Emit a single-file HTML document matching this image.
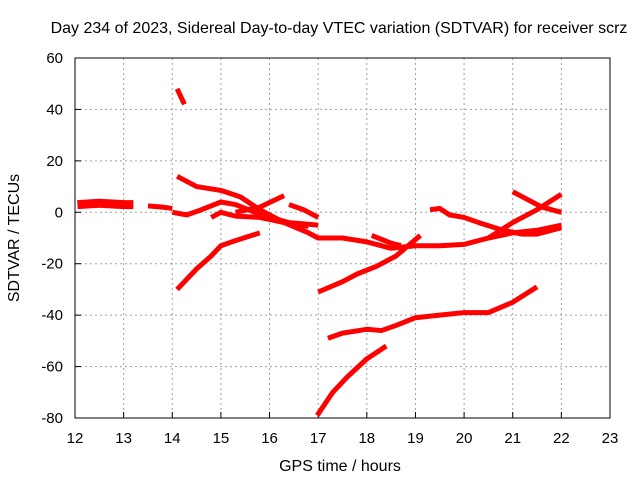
<!DOCTYPE html>
<html><head><meta charset="utf-8"><style>
body{margin:0;background:#fff}
svg text{font-family:"Liberation Sans",sans-serif;font-size:15px;fill:#000}
svg text.big{font-size:16px}
</style></head><body>
<svg id="chart" width="640" height="480">
<text class="big" x="339" y="33" text-anchor="middle">Day 234 of 2023, Sidereal Day-to-day VTEC variation (SDTVAR) for receiver scrz</text>
<g id="grid"></g><g id="ticks"></g><g id="series"></g>
<rect x="75" y="58" width="535" height="360" fill="none" stroke="#000" stroke-width="1"/>
<text class="big" x="340" y="471" text-anchor="middle">GPS time / hours</text>
<text class="big" transform="translate(19,238) rotate(-90)" text-anchor="middle">SDTVAR / TECUs</text>
</svg>
<script>
const xTicks=[12,13,14,15,16,17,18,19,20,21,22,23];
const yTicks=[60,40,20,0,-20,-40,-60,-80];
const segA=[[12.05,3],[12.5,3.5],[13.0,3],[13.2,3]];
const segB=[[13.5,2.5],[13.8,2],[14.0,1.5]];
const segC=[[14.1,48],[14.2,44],[14.25,42]];
const segMain=[[14.1,14],[14.5,10],[15.0,8.5],[15.4,6],[15.8,1],[16.3,-4],[16.8,-8],[17.0,-10],[17.5,-10],[18.0,-11.5],[18.5,-14],[19.0,-13],[19.5,-13],[20.0,-12.5],[20.5,-10],[21.0,-8],[21.5,-7],[22.0,-5]];
const segE=[[14.0,0],[14.3,-1],[14.6,1],[15.0,4],[15.3,3],[15.7,0],[16.0,-2],[16.4,-4],[17.0,-5]];
const segF=[[14.8,-2],[15.0,0],[15.3,-1.5],[15.8,-2],[16.3,-4],[16.8,-5.5]];
const segG=[[15.3,0],[15.8,2],[16.3,6.5]];
const segH=[[16.4,3],[16.7,1],[17.0,-2]];
const segI=[[14.1,-30],[14.5,-22],[14.8,-17],[15.0,-13],[15.3,-11],[15.8,-8]];
const segJ=[[17.0,-31],[17.5,-27],[17.8,-24],[18.2,-21],[18.6,-17],[19.1,-9]];
const segK=[[18.1,-9],[18.5,-12],[18.7,-13]];
const segL=[[19.3,1],[19.5,1.5],[19.7,-1],[20.0,-2],[20.3,-4],[20.8,-7],[21.2,-8.5],[21.5,-8.5],[22.0,-6]];
const segR=[[20.5,-10],[21.0,-4],[21.5,1],[22.0,7]];
const segM=[[21.0,8],[21.3,5],[21.6,2],[22.0,0]];
const segN=[[17.2,-49],[17.5,-47],[18.0,-45.5],[18.3,-46],[18.6,-44],[19.0,-41],[19.5,-40],[20.0,-39],[20.5,-39],[21.0,-35],[21.5,-29]];
const segO=[[16.98,-79],[17.3,-70],[17.6,-64],[18.0,-57],[18.4,-52]];
const allSegs=[segA,segB,segC,segMain,segE,segF,segG,segH,segI,segJ,segK,segL,segR,segM,segN,segO];
const NS="http://www.w3.org/2000/svg";
const X=h=>75+(h-12)*535/11;
const Y=v=>58+(60-v)*360/140;
const grid=document.getElementById('grid'),ticks=document.getElementById('ticks'),series=document.getElementById('series');
function mk(t,a,p){const e=document.createElementNS(NS,t);for(const k in a)e.setAttribute(k,a[k]);p.appendChild(e);return e;}
xTicks.forEach(t=>{
 const x=X(t);
 if(t>12&&t<23){const g=mk('line',{x1:x,x2:x,y1:58,y2:418,stroke:'#a0a0a0','stroke-dasharray':'2,3'},grid);
 
 }
 const tk=mk('line',{x1:x,x2:x,y1:418,y2:412,stroke:'#000'},ticks);
 
 
 const tx=mk('text',{x:x,y:443,'text-anchor':'middle'},ticks);tx.textContent=t;
 
 
});
yTicks.forEach(t=>{
 const y=Y(t);
 if(t<60&&t>-80){const g=mk('line',{x1:75,x2:610,y1:y,y2:y,stroke:'#a0a0a0','stroke-dasharray':'2,3'},grid);
 
 }
 const tk=mk('line',{x1:75,x2:81,y1:y,y2:y,stroke:'#000'},ticks);
 
 
 const tx=mk('text',{x:63,y:y+5,'text-anchor':'end'},ticks);tx.textContent=t;
 
 
});
allSegs.forEach((s,i)=>{
 const p=mk('polyline',{points:s.map(d=>X(d[0])+','+Y(d[1])).join(' '),fill:'none',stroke:'#ff0000','stroke-width':i===0?9:5,'stroke-linejoin':'round'},series);
 
 
});
</script>
</body></html>
